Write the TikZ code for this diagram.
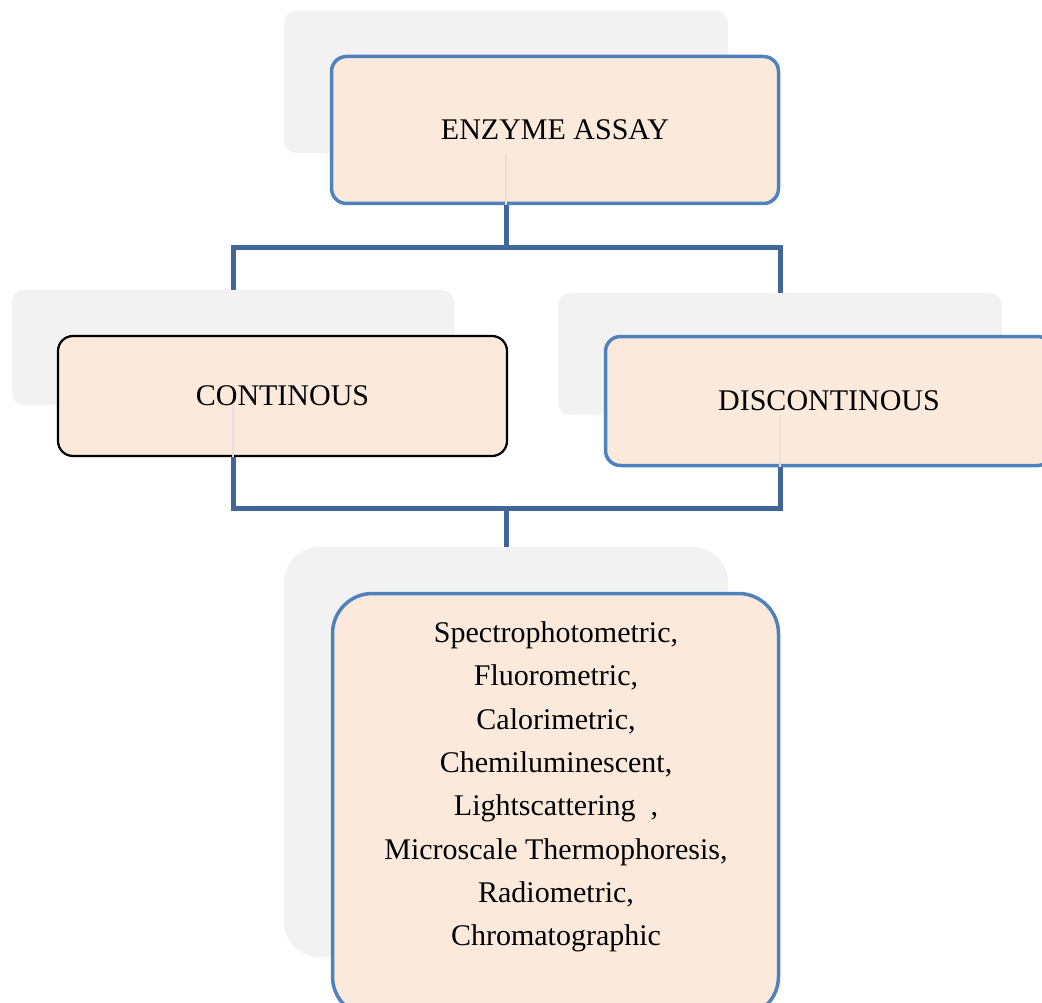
\documentclass[tikz,border=0pt]{standalone}
\usepackage{fontspec}
\setmainfont{Liberation Serif}
\usepackage{tikz}
\definecolor{boxfill}{RGB}{251,234,220}
\definecolor{boxline}{RGB}{79,129,189}
\definecolor{linkblue}{RGB}{65,103,154}
\definecolor{shade}{RGB}{242,242,242}
\definecolor{faintline}{RGB}{234,224,217}
\tikzstyle{shadowbox} = [fill=shade, rounded corners=12pt, inner sep=0pt]
\tikzstyle{assaybox} = [draw=boxline, line width=3.5pt, fill=boxfill, rounded corners=15pt, inner sep=0pt, font=\fontsize{30pt}{36pt}\selectfont]
\tikzstyle{link} = [draw=linkblue, line width=5pt]
\tikzstyle{faint} = [draw=faintline, line width=2.5pt]

\begin{document}
\begin{tikzpicture}[yscale=-1]
			\useasboundingbox (0pt,0pt) rectangle (1042pt,1003pt);
			% shadows
			\node[shadowbox, minimum width=444pt, minimum height=142pt] (assayshadow) at (506pt,82pt) {};
			\node[shadowbox, minimum width=442pt, minimum height=115pt] (contshadow) at (233pt,347.5pt) {};
			\node[shadowbox, minimum width=444pt, minimum height=122pt] (discshadow) at (780pt,354pt) {};
			\node[shadowbox, rounded corners=35pt, minimum width=444pt, minimum height=410pt] (methodsshadow) at (506pt,752pt) {};
			% boxes
			\node[assaybox, minimum width=447pt, minimum height=147pt] (assay) at (555pt,130pt) {ENZYME ASSAY};
			\node[assaybox, draw=black, line width=2.2pt, minimum width=449pt, minimum height=120pt] (cont) at (282.5pt,396pt) {CONTINOUS};
			\node[assaybox, minimum width=447pt, minimum height=129pt] (disc) at (829pt,401pt) {DISCONTINOUS};
			\node[assaybox, rounded corners=40pt, minimum width=446pt, minimum height=423pt] (methods) at (555.5pt,805pt) {};
			\node[align=center, font=\fontsize{30pt}{43.3pt}\selectfont] (methodstext) at (556pt,787pt) {Spectrophotometric,\\ Fluorometric,\\ Calorimetric,\\ Chemiluminescent,\\ Lightscattering\ \ ,\\ Microscale Thermophoresis,\\ Radiometric,\\ Chromatographic};
			% connectors
			\coordinate (topfork) at (506pt,248pt);
			\coordinate (lowfork) at (506pt,508pt);
			\draw[faint] (assayshadow.south) -- (assayshadow.south |- assay.south);
			\draw[faint] (contshadow.south) -- (contshadow.south |- cont.south);
			\draw[faint] (discshadow.south) -- (discshadow.south |- disc.south);
			\draw[link] (assayshadow.south |- assay.south) -- (topfork) -| (contshadow.north);
			\draw[link] (topfork) -| (discshadow.north);
			\draw[link] (contshadow.south |- cont.south) |- (lowfork) -| (discshadow.south |- disc.south);
			\draw[link] (lowfork) -- (methodsshadow.north);
		\end{tikzpicture}
\end{document}
